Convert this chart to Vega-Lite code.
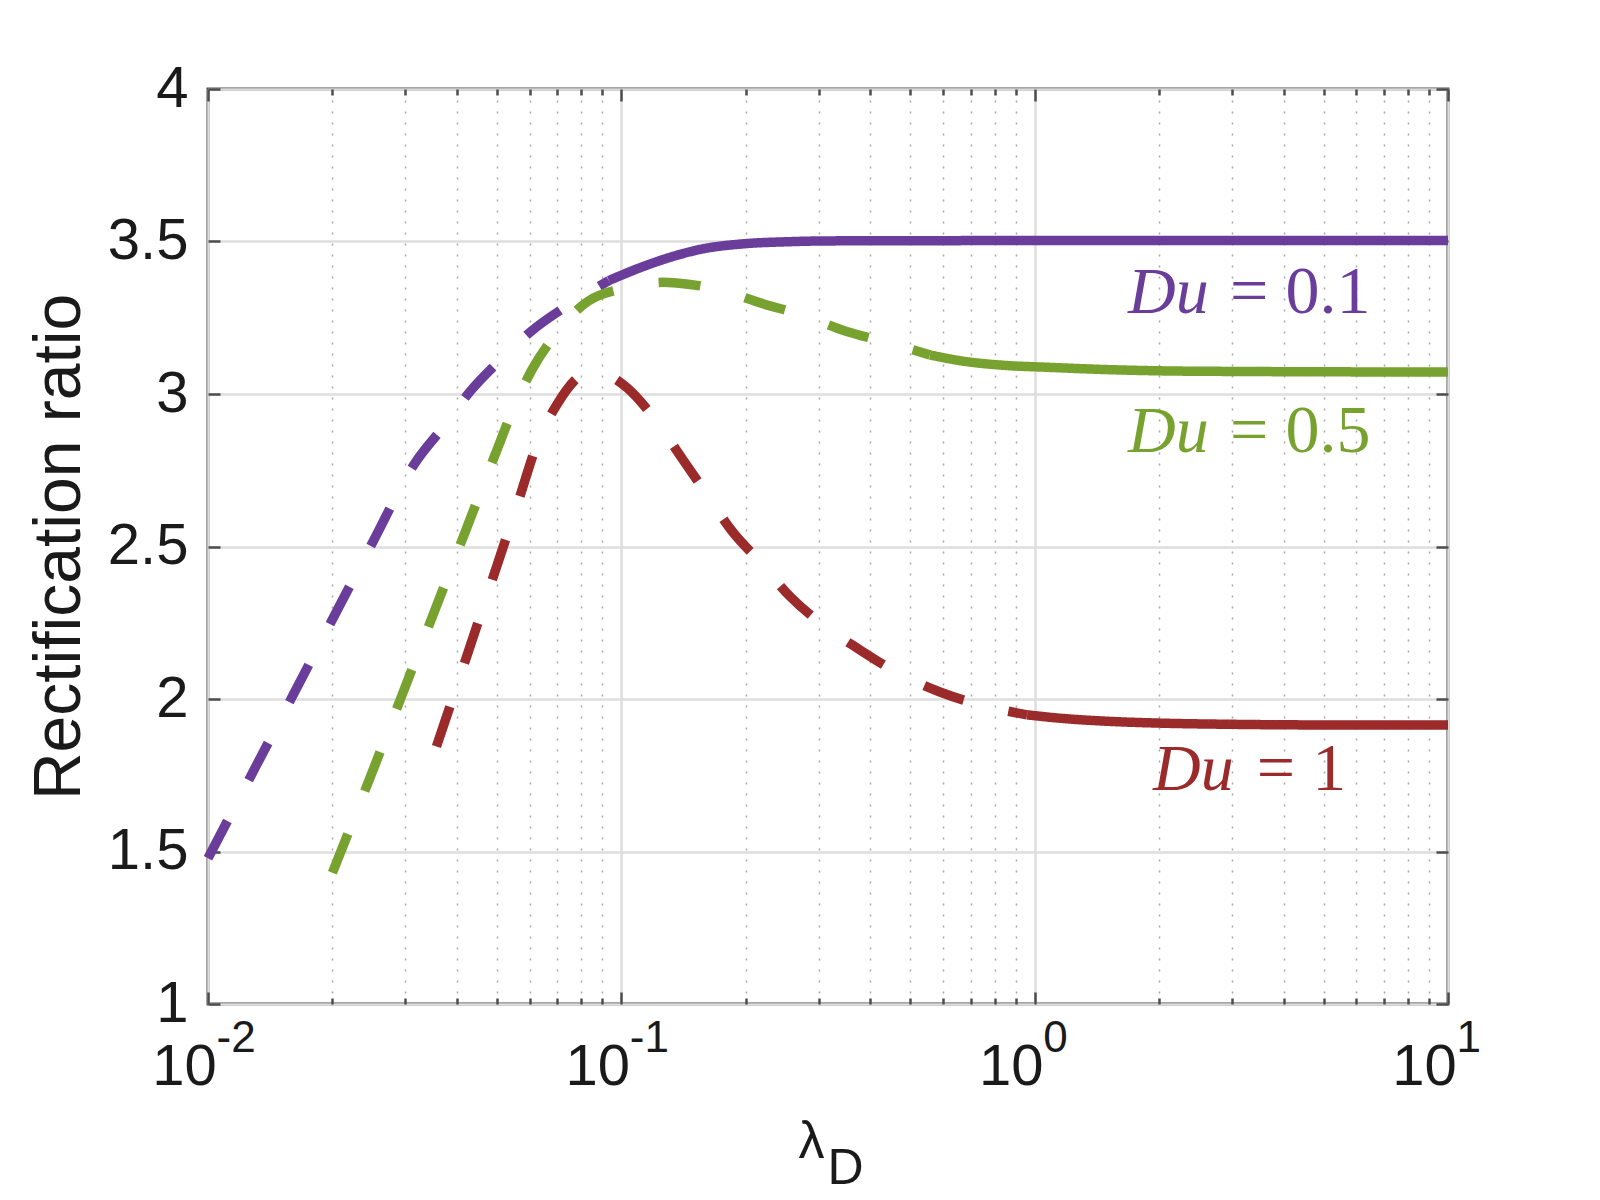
{
  "$schema": "https://vega.github.io/schema/vega-lite/v6.json",
  "width": 1240,
  "height": 915,
  "autosize": {"type": "none"},
  "padding": {"left": 208, "top": 89, "right": 152, "bottom": 196},
  "background": "white",
  "config": {
    "view": {"stroke": "#4d4d4d", "strokeWidth": 3},
    "axis": {
      "labelFont": "Liberation Sans",
      "titleFont": "Liberation Sans",
      "labelColor": "#1a1a1a",
      "titleColor": "#1a1a1a",
      "tickColor": "#4d4d4d",
      "tickWidth": 2.5,
      "domain": false,
      "labelFlush": false,
      "labelOverlap": false
    }
  },
  "datasets": {
    "curves": [
      {"series": "0.1", "seg": "dash", "x": 0.01, "y": 1.478},
      {"series": "0.1", "seg": "dash", "x": 0.01259, "y": 1.738},
      {"series": "0.1", "seg": "dash", "x": 0.01585, "y": 1.998},
      {"series": "0.1", "seg": "dash", "x": 0.01995, "y": 2.258},
      {"series": "0.1", "seg": "dash", "x": 0.02512, "y": 2.518},
      {"series": "0.1", "seg": "dash", "x": 0.03162, "y": 2.772},
      {"series": "0.1", "seg": "dash", "x": 0.03715, "y": 2.893},
      {"series": "0.1", "seg": "dash", "x": 0.04315, "y": 3.01},
      {"series": "0.1", "seg": "dash", "x": 0.0508, "y": 3.11},
      {"series": "0.1", "seg": "dash", "x": 0.0608, "y": 3.208},
      {"series": "0.1", "seg": "dash", "x": 0.0741, "y": 3.29},
      {"series": "0.1", "seg": "dash", "x": 0.0933, "y": 3.372},
      {"series": "0.1", "seg": "solid", "x": 0.0933, "y": 3.372},
      {"series": "0.1", "seg": "solid", "x": 0.11, "y": 3.412},
      {"series": "0.1", "seg": "solid", "x": 0.129, "y": 3.445},
      {"series": "0.1", "seg": "solid", "x": 0.155, "y": 3.474},
      {"series": "0.1", "seg": "solid", "x": 0.2, "y": 3.493},
      {"series": "0.1", "seg": "solid", "x": 0.25, "y": 3.499},
      {"series": "0.1", "seg": "solid", "x": 0.32, "y": 3.502},
      {"series": "0.1", "seg": "solid", "x": 1, "y": 3.503},
      {"series": "0.1", "seg": "solid", "x": 10, "y": 3.503},
      {"series": "0.5", "seg": "dash", "x": 0.02, "y": 1.43},
      {"series": "0.5", "seg": "dash", "x": 0.02512, "y": 1.77},
      {"series": "0.5", "seg": "dash", "x": 0.03162, "y": 2.12},
      {"series": "0.5", "seg": "dash", "x": 0.03981, "y": 2.47},
      {"series": "0.5", "seg": "dash", "x": 0.05012, "y": 2.82},
      {"series": "0.5", "seg": "dash", "x": 0.0543, "y": 2.94},
      {"series": "0.5", "seg": "dash", "x": 0.0608, "y": 3.08},
      {"series": "0.5", "seg": "dash", "x": 0.0698, "y": 3.2},
      {"series": "0.5", "seg": "dash", "x": 0.0828, "y": 3.303},
      {"series": "0.5", "seg": "dash", "x": 0.105, "y": 3.35},
      {"series": "0.5", "seg": "dash", "x": 0.126, "y": 3.366},
      {"series": "0.5", "seg": "dash", "x": 0.136, "y": 3.364},
      {"series": "0.5", "seg": "dash", "x": 0.172, "y": 3.342},
      {"series": "0.5", "seg": "dash", "x": 0.22, "y": 3.296},
      {"series": "0.5", "seg": "dash", "x": 0.275, "y": 3.258},
      {"series": "0.5", "seg": "dash", "x": 0.351, "y": 3.205},
      {"series": "0.5", "seg": "dash", "x": 0.443, "y": 3.168},
      {"series": "0.5", "seg": "dash", "x": 0.558, "y": 3.128},
      {"series": "0.5", "seg": "solid", "x": 0.558, "y": 3.128},
      {"series": "0.5", "seg": "solid", "x": 0.685, "y": 3.106},
      {"series": "0.5", "seg": "solid", "x": 0.825, "y": 3.095},
      {"series": "0.5", "seg": "solid", "x": 1.1, "y": 3.087},
      {"series": "0.5", "seg": "solid", "x": 1.5, "y": 3.08},
      {"series": "0.5", "seg": "solid", "x": 2, "y": 3.076},
      {"series": "0.5", "seg": "solid", "x": 3, "y": 3.074},
      {"series": "0.5", "seg": "solid", "x": 10, "y": 3.072},
      {"series": "1", "seg": "dash", "x": 0.0357, "y": 1.844},
      {"series": "1", "seg": "dash", "x": 0.0398, "y": 2.034},
      {"series": "1", "seg": "dash", "x": 0.04467, "y": 2.238},
      {"series": "1", "seg": "dash", "x": 0.05012, "y": 2.441},
      {"series": "1", "seg": "dash", "x": 0.05623, "y": 2.645},
      {"series": "1", "seg": "dash", "x": 0.0631, "y": 2.85},
      {"series": "1", "seg": "dash", "x": 0.0698, "y": 2.965},
      {"series": "1", "seg": "dash", "x": 0.0795, "y": 3.06},
      {"series": "1", "seg": "dash", "x": 0.085, "y": 3.075},
      {"series": "1", "seg": "dash", "x": 0.1033, "y": 3.02},
      {"series": "1", "seg": "dash", "x": 0.1194, "y": 2.925},
      {"series": "1", "seg": "dash", "x": 0.141, "y": 2.784},
      {"series": "1", "seg": "dash", "x": 0.1595, "y": 2.679},
      {"series": "1", "seg": "dash", "x": 0.1854, "y": 2.55},
      {"series": "1", "seg": "dash", "x": 0.2167, "y": 2.449},
      {"series": "1", "seg": "dash", "x": 0.256, "y": 2.336},
      {"series": "1", "seg": "dash", "x": 0.3076, "y": 2.243},
      {"series": "1", "seg": "dash", "x": 0.378, "y": 2.161},
      {"series": "1", "seg": "dash", "x": 0.4645, "y": 2.087},
      {"series": "1", "seg": "dash", "x": 0.59, "y": 2.023},
      {"series": "1", "seg": "dash", "x": 0.738, "y": 1.981},
      {"series": "1", "seg": "dash", "x": 0.959, "y": 1.948},
      {"series": "1", "seg": "solid", "x": 0.959, "y": 1.948},
      {"series": "1", "seg": "solid", "x": 1.2, "y": 1.935},
      {"series": "1", "seg": "solid", "x": 1.5, "y": 1.927},
      {"series": "1", "seg": "solid", "x": 2, "y": 1.921},
      {"series": "1", "seg": "solid", "x": 3, "y": 1.917},
      {"series": "1", "seg": "solid", "x": 5, "y": 1.915},
      {"series": "1", "seg": "solid", "x": 10, "y": 1.915}
    ],
    "labels": [
      {"series": "0.1", "x": 1.683, "x2": 2.97, "y": 3.265, "du": "Du", "eq": "= 0.1"},
      {"series": "0.5", "x": 1.683, "x2": 2.97, "y": 2.811, "du": "Du", "eq": "= 0.5"},
      {"series": "1", "x": 1.934, "x2": 3.447, "y": 1.702, "du": "Du", "eq": "= 1"}
    ],
    "xtitle": [
      {"x": 0.2885, "y": 0.495, "t": "λ"},
      {"x": 0.3487, "y": 0.41, "t": "D"}
    ]
  },
  "layer": [
    {
      "data": {"name": "curves"},
      "mark": {"type": "line", "strokeWidth": 9.5, "interpolate": "monotone"},
      "encoding": {
        "x": {
          "field": "x", "type": "quantitative",
          "scale": {"type": "log", "domain": [0.01, 10], "nice": false},
          "axis": {
            "orient": "bottom", "values": [0.01, 0.1, 1, 10], "labelExpr": "'10'",
            "labelFontSize": 58, "labelOffset": -24, "labelPadding": 46,
            "grid": true, "gridColor": "#dedede", "gridWidth": 2.5,
            "tickSize": -12, "title": null
          }
        },
        "y": {
          "field": "y", "type": "quantitative",
          "scale": {"domain": [1, 4], "nice": false, "zero": false},
          "axis": {
            "orient": "left", "values": [1, 1.5, 2, 2.5, 3, 3.5, 4], "format": "~g",
            "labelFontSize": 58, "labelPadding": 32,
            "grid": true, "gridColor": "#dedede", "gridWidth": 2.5,
            "tickSize": -12,
            "title": "Rectification ratio", "titleFontSize": 66, "titleFontWeight": "normal", "titlePadding": 14
          }
        },
        "color": {
          "field": "series", "type": "nominal",
          "scale": {"domain": ["0.1", "0.5", "1"], "range": ["#6a3d9a", "#77a22f", "#9b2a2a"]},
          "legend": null
        },
        "strokeDash": {
          "field": "seg", "type": "nominal",
          "scale": {"domain": ["dash", "solid"], "range": [[42, 46], [1, 0]]},
          "legend": null
        }
      }
    },
    {
      "data": {"name": "labels"},
      "mark": {"type": "text", "font": "Liberation Serif", "fontStyle": "italic", "fontSize": 66, "align": "left", "baseline": "alphabetic"},
      "encoding": {
        "x": {
          "field": "x", "type": "quantitative",
          "scale": {"type": "log", "domain": [0.01, 10], "nice": false},
          "axis": {
            "orient": "bottom",
            "values": [0.02, 0.03, 0.04, 0.05, 0.06, 0.07, 0.08, 0.09, 0.2, 0.3, 0.4, 0.5, 0.6, 0.7, 0.8, 0.9, 2, 3, 4, 5, 6, 7, 8, 9],
            "labels": false, "grid": true, "gridColor": "#a8a8a8", "gridWidth": 1.5, "gridDash": [2, 9],
            "tickSize": -6, "title": null
          }
        },
        "y": {
          "field": "y", "type": "quantitative",
          "scale": {"domain": [1, 4], "nice": false, "zero": false},
          "axis": {
            "orient": "right", "values": [1, 1.5, 2, 2.5, 3, 3.5, 4],
            "labels": false, "grid": false, "tickSize": -12, "title": null
          }
        },
        "text": {"field": "du"},
        "color": {"field": "series", "type": "nominal", "legend": null}
      }
    },
    {
      "data": {"name": "labels"},
      "mark": {"type": "text", "font": "Liberation Serif", "fontSize": 68, "align": "left", "baseline": "alphabetic"},
      "encoding": {
        "x": {
          "field": "x2", "type": "quantitative",
          "scale": {"type": "log", "domain": [0.01, 10], "nice": false},
          "axis": {
            "orient": "bottom", "values": [0.01, 0.1, 1, 10],
            "labelExpr": "datum.value < 0.05 ? '-2' : datum.value < 0.5 ? '-1' : datum.value < 5 ? '0' : '1'",
            "labelFontSize": 44, "labelAlign": "left", "labelOffset": 8, "labelPadding": 12,
            "ticks": false, "grid": false, "title": null
          }
        },
        "y": {
          "field": "y", "type": "quantitative",
          "scale": {"domain": [1, 4], "nice": false, "zero": false},
          "axis": null
        },
        "text": {"field": "eq"},
        "color": {"field": "series", "type": "nominal", "legend": null}
      }
    },
    {
      "data": {"name": "xtitle"},
      "transform": [{"filter": "datum.t == 'λ'"}],
      "mark": {"type": "text", "font": "Liberation Sans", "fontSize": 52, "align": "center", "baseline": "alphabetic", "color": "#1a1a1a"},
      "encoding": {
        "x": {
          "field": "x", "type": "quantitative",
          "scale": {"type": "log", "domain": [0.01, 10], "nice": false},
          "axis": {
            "orient": "top", "values": [0.01, 0.1, 1, 10],
            "labels": false, "grid": false, "tickSize": -12, "title": null
          }
        },
        "y": {
          "field": "y", "type": "quantitative",
          "scale": {"domain": [1, 4], "nice": false, "zero": false},
          "axis": null
        },
        "text": {"field": "t"}
      }
    },
    {
      "data": {"name": "xtitle"},
      "transform": [{"filter": "datum.t == 'D'"}],
      "mark": {"type": "text", "font": "Liberation Sans", "fontSize": 50, "align": "center", "baseline": "alphabetic", "color": "#1a1a1a"},
      "encoding": {
        "x": {
          "field": "x", "type": "quantitative",
          "scale": {"type": "log", "domain": [0.01, 10], "nice": false},
          "axis": {
            "orient": "top",
            "values": [0.02, 0.03, 0.04, 0.05, 0.06, 0.07, 0.08, 0.09, 0.2, 0.3, 0.4, 0.5, 0.6, 0.7, 0.8, 0.9, 2, 3, 4, 5, 6, 7, 8, 9],
            "labels": false, "grid": false, "tickSize": -6, "title": null
          }
        },
        "y": {
          "field": "y", "type": "quantitative",
          "scale": {"domain": [1, 4], "nice": false, "zero": false},
          "axis": null
        },
        "text": {"field": "t"}
      }
    }
  ],
  "resolve": {"axis": {"x": "independent", "y": "independent"}}
}
